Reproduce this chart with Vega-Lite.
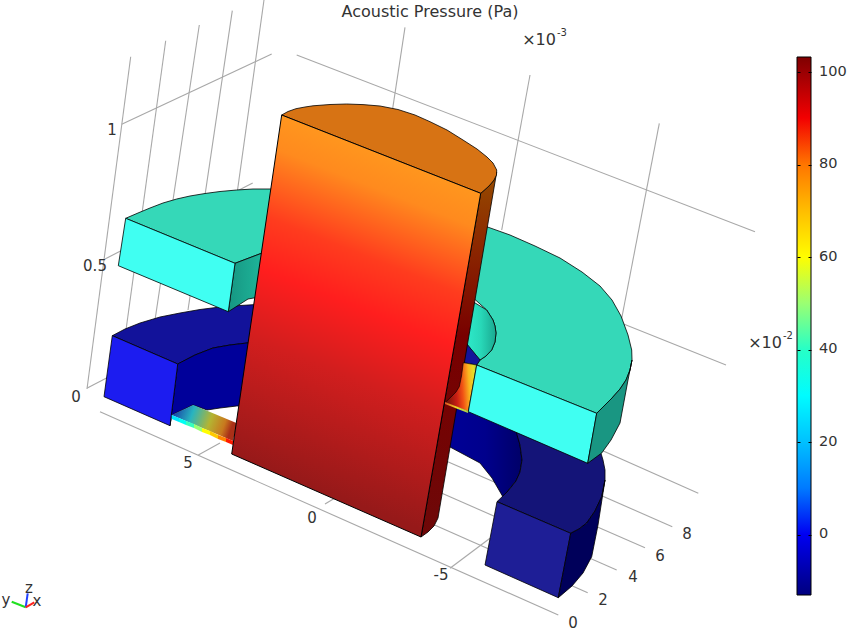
{"$schema":"https://vega.github.io/schema/vega-lite/v6.json","width":864,"height":633,"padding":0,"autosize":{"type":"none"},"background":"white","view":{"stroke":null},
"datasets":{
"grid":[
{"f":"z1","i":0,"x":130.7,"y":56.7},{"f":"z1","i":1,"x":87,"y":389},
{"f":"z2","i":0,"x":165.7,"y":40.7},{"f":"z2","i":1,"x":126,"y":330},
{"f":"z3","i":0,"x":199.3,"y":25},{"f":"z3","i":1,"x":155,"y":320},
{"f":"z4","i":0,"x":232.3,"y":10.7},{"f":"z4","i":1,"x":188,"y":310},
{"f":"z5","i":0,"x":264,"y":0},{"f":"z5","i":1,"x":225,"y":280},
{"f":"b1","i":0,"x":121.7,"y":124.3},{"f":"b1","i":1,"x":271.7,"y":54},
{"f":"b2","i":0,"x":105,"y":259},{"f":"b2","i":1,"x":252.7,"y":183},
{"f":"b3","i":0,"x":87.3,"y":388},{"f":"b3","i":1,"x":120,"y":371},
{"f":"r1","i":0,"x":405,"y":27.3},{"f":"r1","i":1,"x":392.7,"y":108.3},
{"f":"r2","i":0,"x":530,"y":75},{"f":"r2","i":1,"x":501.7,"y":230},
{"f":"r3","i":0,"x":659.3,"y":123.3},{"f":"r3","i":1,"x":621,"y":322},
{"f":"t1","i":0,"x":296.7,"y":55},{"f":"t1","i":1,"x":755,"y":231.7},
{"f":"t2","i":0,"x":621.7,"y":323.3},{"f":"t2","i":1,"x":726,"y":365},
{"f":"fa","i":0,"x":100,"y":411.7},{"f":"fa","i":1,"x":558.3,"y":615},
{"f":"f2","i":0,"x":430,"y":523},{"f":"f2","i":1,"x":587.7,"y":592.7},
{"f":"f4","i":0,"x":430,"y":488},{"f":"f4","i":1,"x":616.7,"y":570},
{"f":"f6","i":0,"x":430,"y":454},{"f":"f6","i":1,"x":645,"y":547.7},
{"f":"f8","i":0,"x":470,"y":438},{"f":"f8","i":1,"x":672.3,"y":526.7},
{"f":"f10","i":0,"x":500,"y":405},{"f":"f10","i":1,"x":698.3,"y":493.3},
{"f":"x5","i":0,"x":198.3,"y":455},{"f":"x5","i":1,"x":220,"y":443},
{"f":"x0","i":0,"x":325,"y":504},{"f":"x0","i":1,"x":340,"y":495},
{"f":"xm5","i":0,"x":450,"y":568.3},{"f":"xm5","i":1,"x":490,"y":538.3}
],
"triad":[
{"axis":"y","i":0,"x":25.7,"y":607.3},{"axis":"y","i":1,"x":11.7,"y":601.7},
{"axis":"z","i":0,"x":25.7,"y":607.3},{"axis":"z","i":1,"x":27.7,"y":593.3},
{"axis":"x","i":0,"x":25.7,"y":607.3},{"axis":"x","i":1,"x":34.3,"y":602.3}
],
"big":[
{"t":"Acoustic Pressure (Pa)","x":430,"y":11.5},
{"t":"×10","x":539,"y":39.5},{"t":"×10","x":765,"y":342.5}
],
"labels":[
{"t":"1","x":112,"y":130},{"t":"0.5","x":95,"y":266},{"t":"0","x":76,"y":397},
{"t":"5","x":188,"y":463},{"t":"0","x":312,"y":518},{"t":"-5","x":441,"y":575},
{"t":"0","x":573,"y":623},{"t":"2","x":603,"y":600},{"t":"4","x":633,"y":577},{"t":"6","x":660,"y":556},{"t":"8","x":687,"y":534},
{"t":"y","x":6,"y":600},{"t":"z","x":29,"y":588},{"t":"x","x":37,"y":601}
],
"sups":[{"t":"-3","x":562,"y":33},{"t":"-2","x":788,"y":336}],
"faces":[
{"f":"ringTopL","i":0,"x":112.3,"y":335.7},{"f":"ringTopL","i":1,"x":125,"y":329},{"f":"ringTopL","i":2,"x":140,"y":323},{"f":"ringTopL","i":3,"x":160,"y":317},{"f":"ringTopL","i":4,"x":180,"y":313},{"f":"ringTopL","i":5,"x":200,"y":309.5},{"f":"ringTopL","i":6,"x":220,"y":307},{"f":"ringTopL","i":7,"x":240,"y":305.5},{"f":"ringTopL","i":8,"x":265,"y":304},{"f":"ringTopL","i":9,"x":265,"y":342},{"f":"ringTopL","i":10,"x":247,"y":343},{"f":"ringTopL","i":11,"x":230,"y":345},{"f":"ringTopL","i":12,"x":213,"y":348},{"f":"ringTopL","i":13,"x":195,"y":355},{"f":"ringTopL","i":14,"x":177.7,"y":364},
{"f":"ringInL","i":0,"x":177.7,"y":364},{"f":"ringInL","i":1,"x":195,"y":355},{"f":"ringInL","i":2,"x":213,"y":348},{"f":"ringInL","i":3,"x":230,"y":345},{"f":"ringInL","i":4,"x":247,"y":343},{"f":"ringInL","i":5,"x":265,"y":342},{"f":"ringInL","i":6,"x":265,"y":405},{"f":"ringInL","i":7,"x":236.7,"y":406},{"f":"ringInL","i":8,"x":220,"y":408},{"f":"ringInL","i":9,"x":207,"y":410},{"f":"ringInL","i":10,"x":193,"y":405},{"f":"ringInL","i":11,"x":171.7,"y":415},{"f":"ringInL","i":12,"x":170,"y":425.7},
{"f":"boxL","i":0,"x":112.3,"y":335.7},{"f":"boxL","i":1,"x":177.7,"y":364},{"f":"boxL","i":2,"x":170,"y":425.7},{"f":"boxL","i":3,"x":104,"y":396.7},
{"f":"ringInR","i":0,"x":440,"y":395},{"f":"ringInR","i":1,"x":517,"y":430},{"f":"ringInR","i":2,"x":520,"y":445},{"f":"ringInR","i":3,"x":522,"y":460},{"f":"ringInR","i":4,"x":520,"y":472},{"f":"ringInR","i":5,"x":516,"y":481},{"f":"ringInR","i":6,"x":503,"y":497},{"f":"ringInR","i":7,"x":492,"y":478},{"f":"ringInR","i":8,"x":480,"y":463},{"f":"ringInR","i":9,"x":465,"y":455},{"f":"ringInR","i":10,"x":450,"y":447},{"f":"ringInR","i":11,"x":430,"y":438},
{"f":"ringTopR","i":0,"x":497,"y":501.7},{"f":"ringTopR","i":1,"x":570.7,"y":533.3},{"f":"ringTopR","i":2,"x":579,"y":529},{"f":"ringTopR","i":3,"x":586.7,"y":523},{"f":"ringTopR","i":4,"x":595,"y":511},{"f":"ringTopR","i":5,"x":601.7,"y":496.7},{"f":"ringTopR","i":6,"x":605,"y":480},{"f":"ringTopR","i":7,"x":605,"y":470},{"f":"ringTopR","i":8,"x":603,"y":460},{"f":"ringTopR","i":9,"x":600,"y":450},{"f":"ringTopR","i":10,"x":515,"y":425},{"f":"ringTopR","i":11,"x":517,"y":435},{"f":"ringTopR","i":12,"x":520,"y":445},{"f":"ringTopR","i":13,"x":522,"y":460},{"f":"ringTopR","i":14,"x":520,"y":472},{"f":"ringTopR","i":15,"x":516,"y":481},{"f":"ringTopR","i":16,"x":508,"y":491},
{"f":"boxR","i":0,"x":497,"y":501.7},{"f":"boxR","i":1,"x":570.7,"y":533.3},{"f":"boxR","i":2,"x":558.3,"y":597.7},{"f":"boxR","i":3,"x":485,"y":565},
{"f":"sideR","i":0,"x":570.7,"y":533.3},{"f":"sideR","i":1,"x":579,"y":529},{"f":"sideR","i":2,"x":586.7,"y":523},{"f":"sideR","i":3,"x":595,"y":511},{"f":"sideR","i":4,"x":601.7,"y":496.7},{"f":"sideR","i":5,"x":605,"y":480},{"f":"sideR","i":6,"x":598,"y":525},{"f":"sideR","i":7,"x":591.7,"y":556.7},{"f":"sideR","i":8,"x":583,"y":573},{"f":"sideR","i":9,"x":572,"y":586},{"f":"sideR","i":10,"x":558.3,"y":597.7},
{"f":"slitTop","i":0,"x":171.7,"y":415},{"f":"slitTop","i":1,"x":193.3,"y":405},{"f":"slitTop","i":2,"x":237,"y":423.3},{"f":"slitTop","i":3,"x":233,"y":441},
{"f":"cyanTop","i":0,"x":125.7,"y":218.3},{"f":"cyanTop","i":1,"x":138,"y":213},{"f":"cyanTop","i":2,"x":150,"y":208},{"f":"cyanTop","i":3,"x":163,"y":203},{"f":"cyanTop","i":4,"x":176.7,"y":199},{"f":"cyanTop","i":5,"x":190,"y":196},{"f":"cyanTop","i":6,"x":205,"y":193.5},{"f":"cyanTop","i":7,"x":220,"y":191.5},{"f":"cyanTop","i":8,"x":236.7,"y":190},{"f":"cyanTop","i":9,"x":253,"y":189},{"f":"cyanTop","i":10,"x":270,"y":189},{"f":"cyanTop","i":11,"x":400,"y":195},{"f":"cyanTop","i":12,"x":486.7,"y":226.7},{"f":"cyanTop","i":13,"x":510,"y":235},{"f":"cyanTop","i":14,"x":535,"y":246},{"f":"cyanTop","i":15,"x":560,"y":258},{"f":"cyanTop","i":16,"x":582,"y":272},{"f":"cyanTop","i":17,"x":600,"y":286},{"f":"cyanTop","i":18,"x":612,"y":300},{"f":"cyanTop","i":19,"x":621,"y":316},{"f":"cyanTop","i":20,"x":628,"y":335},{"f":"cyanTop","i":21,"x":631.7,"y":350},{"f":"cyanTop","i":22,"x":632,"y":360},{"f":"cyanTop","i":23,"x":630,"y":370},{"f":"cyanTop","i":24,"x":626,"y":380},{"f":"cyanTop","i":25,"x":620,"y":389},{"f":"cyanTop","i":26,"x":612,"y":398},{"f":"cyanTop","i":27,"x":604,"y":406},{"f":"cyanTop","i":28,"x":596.7,"y":413.3},{"f":"cyanTop","i":29,"x":476.7,"y":365},{"f":"cyanTop","i":30,"x":480,"y":360},{"f":"cyanTop","i":31,"x":486,"y":356},{"f":"cyanTop","i":32,"x":491.7,"y":350},{"f":"cyanTop","i":33,"x":495,"y":342},{"f":"cyanTop","i":34,"x":496,"y":333},{"f":"cyanTop","i":35,"x":495,"y":326},{"f":"cyanTop","i":36,"x":493,"y":320},{"f":"cyanTop","i":37,"x":486.7,"y":310},{"f":"cyanTop","i":38,"x":470,"y":295},{"f":"cyanTop","i":39,"x":350,"y":250},{"f":"cyanTop","i":40,"x":262,"y":253},{"f":"cyanTop","i":41,"x":235,"y":263.3},
{"f":"cyanInL","i":0,"x":235,"y":263.3},{"f":"cyanInL","i":1,"x":265,"y":252},{"f":"cyanInL","i":2,"x":265,"y":296},{"f":"cyanInL","i":3,"x":248,"y":299},{"f":"cyanInL","i":4,"x":228.3,"y":311.7},
{"f":"cyanInR","i":0,"x":462,"y":295},{"f":"cyanInR","i":1,"x":486.7,"y":310},{"f":"cyanInR","i":2,"x":493,"y":320},{"f":"cyanInR","i":3,"x":495,"y":326},{"f":"cyanInR","i":4,"x":496,"y":333},{"f":"cyanInR","i":5,"x":495,"y":342},{"f":"cyanInR","i":6,"x":491.7,"y":350},{"f":"cyanInR","i":7,"x":486,"y":356},{"f":"cyanInR","i":8,"x":480,"y":360},{"f":"cyanInR","i":9,"x":466,"y":343},{"f":"cyanInR","i":10,"x":458,"y":330},
{"f":"tri","i":0,"x":466,"y":343},{"f":"tri","i":1,"x":480,"y":360},{"f":"tri","i":2,"x":476.7,"y":365},{"f":"tri","i":3,"x":460,"y":362},
{"f":"cross","i":0,"x":463.3,"y":362.7},{"f":"cross","i":1,"x":476.7,"y":365},{"f":"cross","i":2,"x":468.3,"y":411.7},{"f":"cross","i":3,"x":445,"y":402.7},{"f":"cross","i":4,"x":451,"y":397},{"f":"cross","i":5,"x":456,"y":392},{"f":"cross","i":6,"x":459.3,"y":386.7},{"f":"cross","i":7,"x":461.5,"y":376},
{"f":"crossEdge","i":0,"x":445,"y":402},{"f":"crossEdge","i":1,"x":468.3,"y":411},{"f":"crossEdge","i":2,"x":468,"y":413},{"f":"crossEdge","i":3,"x":445,"y":404},
{"f":"cyanFrontL","i":0,"x":125.7,"y":218.3},{"f":"cyanFrontL","i":1,"x":235,"y":263.3},{"f":"cyanFrontL","i":2,"x":228.3,"y":311.7},{"f":"cyanFrontL","i":3,"x":118.3,"y":265.7},
{"f":"cyanFrontR","i":0,"x":476.7,"y":365},{"f":"cyanFrontR","i":1,"x":596.7,"y":413.3},{"f":"cyanFrontR","i":2,"x":587.7,"y":463.3},{"f":"cyanFrontR","i":3,"x":468.3,"y":411.7},
{"f":"cyanSide","i":0,"x":596.7,"y":413.3},{"f":"cyanSide","i":1,"x":604,"y":406},{"f":"cyanSide","i":2,"x":612,"y":398},{"f":"cyanSide","i":3,"x":620,"y":389},{"f":"cyanSide","i":4,"x":626,"y":380},{"f":"cyanSide","i":5,"x":630,"y":370},{"f":"cyanSide","i":6,"x":632,"y":360},{"f":"cyanSide","i":7,"x":628,"y":380},{"f":"cyanSide","i":8,"x":620,"y":423},{"f":"cyanSide","i":9,"x":611,"y":440},{"f":"cyanSide","i":10,"x":601.7,"y":453},{"f":"cyanSide","i":11,"x":587.7,"y":463.3},
{"f":"rodSide","i":0,"x":480.7,"y":193.3},{"f":"rodSide","i":1,"x":489,"y":186},{"f":"rodSide","i":2,"x":494,"y":180},{"f":"rodSide","i":3,"x":496.7,"y":172},{"f":"rodSide","i":4,"x":438,"y":518},{"f":"rodSide","i":5,"x":434,"y":526},{"f":"rodSide","i":6,"x":428,"y":532},{"f":"rodSide","i":7,"x":421,"y":537},
{"f":"rodTop","i":0,"x":281.7,"y":115},{"f":"rodTop","i":1,"x":288,"y":111.5},{"f":"rodTop","i":2,"x":296,"y":108.7},{"f":"rodTop","i":3,"x":305,"y":107},{"f":"rodTop","i":4,"x":313,"y":105.8},{"f":"rodTop","i":5,"x":330,"y":104.5},{"f":"rodTop","i":6,"x":346.7,"y":104},{"f":"rodTop","i":7,"x":363,"y":104.6},{"f":"rodTop","i":8,"x":380,"y":106},{"f":"rodTop","i":9,"x":398,"y":109.5},{"f":"rodTop","i":10,"x":415,"y":115},{"f":"rodTop","i":11,"x":430,"y":121.7},{"f":"rodTop","i":12,"x":447,"y":130},{"f":"rodTop","i":13,"x":463,"y":140},{"f":"rodTop","i":14,"x":477,"y":149},{"f":"rodTop","i":15,"x":487,"y":157},{"f":"rodTop","i":16,"x":493,"y":163},{"f":"rodTop","i":17,"x":496.7,"y":170},{"f":"rodTop","i":18,"x":496.5,"y":175},{"f":"rodTop","i":19,"x":494,"y":180},{"f":"rodTop","i":20,"x":489,"y":186},{"f":"rodTop","i":21,"x":480.7,"y":193.3},
{"f":"rodFront","i":0,"x":281.7,"y":115},{"f":"rodFront","i":1,"x":480.7,"y":193.3},{"f":"rodFront","i":2,"x":421,"y":537},{"f":"rodFront","i":3,"x":231.7,"y":454}
],
"strips":[
{"f":"s1","p":26,"i":0,"x":171.7,"y":415},{"f":"s1","p":26,"i":1,"x":179,"y":418},{"f":"s1","p":26,"i":2,"x":179,"y":422},{"f":"s1","p":26,"i":3,"x":171.7,"y":419},
{"f":"s2","p":33,"i":0,"x":179,"y":418},{"f":"s2","p":33,"i":1,"x":186,"y":421},{"f":"s2","p":33,"i":2,"x":186,"y":425},{"f":"s2","p":33,"i":3,"x":179,"y":422},
{"f":"s3","p":41,"i":0,"x":186,"y":421},{"f":"s3","p":41,"i":1,"x":194,"y":424},{"f":"s3","p":41,"i":2,"x":194,"y":428},{"f":"s3","p":41,"i":3,"x":186,"y":425},
{"f":"s4","p":50,"i":0,"x":194,"y":424},{"f":"s4","p":50,"i":1,"x":202,"y":428},{"f":"s4","p":50,"i":2,"x":202,"y":432},{"f":"s4","p":50,"i":3,"x":194,"y":428},
{"f":"s5","p":60,"i":0,"x":202,"y":428},{"f":"s5","p":60,"i":1,"x":210,"y":431},{"f":"s5","p":60,"i":2,"x":210,"y":435},{"f":"s5","p":60,"i":3,"x":202,"y":432},
{"f":"s6","p":68,"i":0,"x":210,"y":431},{"f":"s6","p":68,"i":1,"x":218,"y":435},{"f":"s6","p":68,"i":2,"x":218,"y":439},{"f":"s6","p":68,"i":3,"x":210,"y":435},
{"f":"s7","p":78,"i":0,"x":218,"y":435},{"f":"s7","p":78,"i":1,"x":226,"y":438},{"f":"s7","p":78,"i":2,"x":226,"y":442},{"f":"s7","p":78,"i":3,"x":218,"y":439},
{"f":"s8","p":88,"i":0,"x":226,"y":438},{"f":"s8","p":88,"i":1,"x":233,"y":441},{"f":"s8","p":88,"i":2,"x":233,"y":445},{"f":"s8","p":88,"i":3,"x":226,"y":442}
]
},
"data":{"name":"faces"},
"encoding":{"x":{"field":"x","type":"quantitative","scale":{"domain":[0,864],"nice":false,"zero":false},"axis":null},"y":{"field":"y","type":"quantitative","scale":{"domain":[633,0],"nice":false,"zero":false},"axis":null},"detail":{"field":"f"},"order":{"field":"i"}},
"layer":[
{"data":{"name":"grid"},"mark":{"type":"line","stroke":"#a8a8a8","strokeWidth":1.1},"encoding":{"y":{"field":"y","type":"quantitative","scale":{"domain":[633,0],"nice":false,"zero":false},"axis":{"orient":"left","offset":-811,"values":[72,164.5,257,349.5,442,534.5],"labels":false,"domain":false,"grid":false,"ticks":true,"tickColor":"#000","tickSize":3,"tickWidth":1,"title":null,"zindex":1}}}},
{"transform":[{"filter":{"field":"f","oneOf":["ringTopL","ringInL","boxL"]}}],"mark":{"type":"line","interpolate":"linear-closed","stroke":"#000","strokeWidth":0.8},"encoding":{"y":{"field":"y","type":"quantitative","scale":{"domain":[633,0],"nice":false,"zero":false},"axis":{"orient":"right","offset":-67,"values":[72,164.5,257,349.5,442,534.5],"labels":false,"domain":false,"grid":false,"ticks":true,"tickColor":"#000","tickSize":3,"tickWidth":1,"title":null,"zindex":1}},"fill":{"field":"f","legend":null,"scale":{"domain":["ringTopL","ringInL","boxL"],"range":["#12129a","#00009a","#1c1cf0"]}}}},
{"transform":[{"filter":"datum.f==='ringInR'"}],"mark":{"type":"line","interpolate":"linear-closed","stroke":"#000","strokeWidth":0.8,"fill":{"gradient":"linear","x1":0,"y1":0,"x2":1,"y2":0,"stops":[{"offset":0,"color":"#00009c"},{"offset":0.6,"color":"#00008c"},{"offset":1,"color":"#000068"}]}}},
{"transform":[{"filter":{"field":"f","oneOf":["ringTopR","boxR","sideR"]}}],"mark":{"type":"line","interpolate":"linear-closed","stroke":"#000","strokeWidth":0.8},"encoding":{"fill":{"field":"f","legend":null,"scale":{"domain":["ringTopR","boxR","sideR"],"range":["#141478","#1e1e96","#00005a"]}}}},
{"transform":[{"filter":"datum.f==='slitTop'"}],"mark":{"type":"line","interpolate":"linear-closed","stroke":"transparent","fill":{"gradient":"linear","x1":0,"y1":0,"x2":1,"y2":0.2,"stops":[{"offset":0,"color":"#1428a0"},{"offset":0.35,"color":"#28b4c0"},{"offset":0.65,"color":"#b4b432"},{"offset":0.88,"color":"#c8781e"},{"offset":1,"color":"#aa3018"}]}}},
{"data":{"name":"strips"},"mark":{"type":"line","interpolate":"linear-closed","stroke":"transparent"},"encoding":{"fill":{"field":"p","type":"quantitative","scale":{"domain":[-13.1,1.4,30.5,59.6,88.7,103.2],"range":["#00007f","#0000ff","#00ffff","#ffff00","#ff0000","#7f0000"]},"legend":{"orient":"none","legendX":797,"legendY":57,"title":null,"direction":"vertical","gradientLength":538,"gradientThickness":14,"gradientStrokeColor":"#000","gradientStrokeWidth":1,"values":[0,20,40,60,80,100],"labelFontSize":14.5,"labelFont":"DejaVu Sans","labelColor":"#333","labelOffset":8,"zindex":0}}}},
{"transform":[{"filter":"datum.f==='cyanTop'"}],"mark":{"type":"line","interpolate":"linear-closed","stroke":"#000","strokeWidth":0.8,"fill":"#35d8b8"}},
{"transform":[{"filter":"datum.f==='cyanInL'"}],"mark":{"type":"line","interpolate":"linear-closed","stroke":"#000","strokeWidth":0.8,"fill":{"gradient":"linear","x1":0,"y1":0,"x2":1,"y2":0,"stops":[{"offset":0,"color":"#169682"},{"offset":1,"color":"#1fb89c"}]}}},
{"transform":[{"filter":"datum.f==='cyanInR'"}],"mark":{"type":"line","interpolate":"linear-closed","stroke":"#000","strokeWidth":0.8,"fill":{"gradient":"linear","x1":0,"y1":0,"x2":1,"y2":0,"stops":[{"offset":0,"color":"#30f4d4"},{"offset":0.6,"color":"#28d8b8"},{"offset":1,"color":"#1aa890"}]}}},
{"transform":[{"filter":"datum.f==='tri'"}],"mark":{"type":"line","interpolate":"linear-closed","stroke":"#000","strokeWidth":0.6,"fill":"#14149a"}},
{"transform":[{"filter":"datum.f==='rodSide'"}],"mark":{"type":"line","interpolate":"linear-closed","stroke":"#000","strokeWidth":0.8,"fill":{"gradient":"linear","x1":0,"y1":0,"x2":0,"y2":1,"stops":[{"offset":0,"color":"#964b00"},{"offset":0.2,"color":"#8c2800"},{"offset":0.45,"color":"#780000"},{"offset":1,"color":"#6e0808"}]}}},
{"transform":[{"filter":"datum.f==='cross'"}],"mark":{"type":"line","interpolate":"linear-closed","stroke":"#000","strokeWidth":0.6,"fill":{"gradient":"linear","x1":0,"y1":0.1,"x2":1,"y2":0,"stops":[{"offset":0,"color":"#781408"},{"offset":0.3,"color":"#c81e14"},{"offset":0.5,"color":"#f05014"},{"offset":0.72,"color":"#fab41e"},{"offset":0.88,"color":"#e6dc28"},{"offset":1,"color":"#aac846"}]}}},
{"transform":[{"filter":"datum.f==='crossEdge'"}],"mark":{"type":"line","interpolate":"linear-closed","stroke":"transparent","fill":{"gradient":"linear","x1":0,"y1":0,"x2":1,"y2":0,"stops":[{"offset":0,"color":"#e0501e"},{"offset":0.5,"color":"#f0dc28"},{"offset":1,"color":"#a0d050"}]}}},
{"transform":[{"filter":{"field":"f","oneOf":["cyanFrontL","cyanFrontR","cyanSide"]}}],"mark":{"type":"line","interpolate":"linear-closed","stroke":"#000","strokeWidth":0.8},"encoding":{"fill":{"field":"f","legend":null,"scale":{"domain":["cyanFrontL","cyanFrontR","cyanSide"],"range":["#40fff2","#40fff2","#199682"]}}}},
{"transform":[{"filter":"datum.f==='rodTop'"}],"mark":{"type":"line","interpolate":"linear-closed","stroke":"#000","strokeWidth":0.8,"fill":"#d77314"}},
{"transform":[{"filter":"datum.f==='rodFront'"}],"mark":{"type":"line","interpolate":"linear-closed","stroke":"#000","strokeWidth":1,"fill":{"gradient":"linear","x1":0.2,"y1":0,"x2":0.012,"y2":0.809,"stops":[{"offset":0,"color":"#ff961e"},{"offset":0.1,"color":"#ff8a1e"},{"offset":0.3,"color":"#ff3c1e"},{"offset":0.45,"color":"#ff1e1e"},{"offset":0.65,"color":"#d21e1e"},{"offset":1,"color":"#961919"}]}}},
{"data":{"name":"triad"},"mark":{"type":"line","strokeWidth":2},"encoding":{"stroke":{"field":"axis","legend":null,"scale":{"domain":["x","y","z"],"range":["#ff2020","#20e020","#2040ff"]}},"detail":{"field":"axis"}}},
{"data":{"name":"big"},"mark":{"type":"text","font":"DejaVu Sans","fontSize":16,"color":"#333","align":"center","baseline":"middle"},"encoding":{"text":{"field":"t"},"detail":null,"order":null}},
{"data":{"name":"labels"},"mark":{"type":"text","font":"DejaVu Sans","fontSize":15,"color":"#333","align":"center","baseline":"middle"},"encoding":{"text":{"field":"t"},"detail":null,"order":null}},
{"data":{"name":"sups"},"mark":{"type":"text","font":"DejaVu Sans","fontSize":10,"color":"#333","align":"center","baseline":"middle"},"encoding":{"text":{"field":"t"},"detail":null,"order":null}}
],
"resolve":{"scale":{"fill":"independent","stroke":"independent"},"axis":{"y":"independent"}}
}
